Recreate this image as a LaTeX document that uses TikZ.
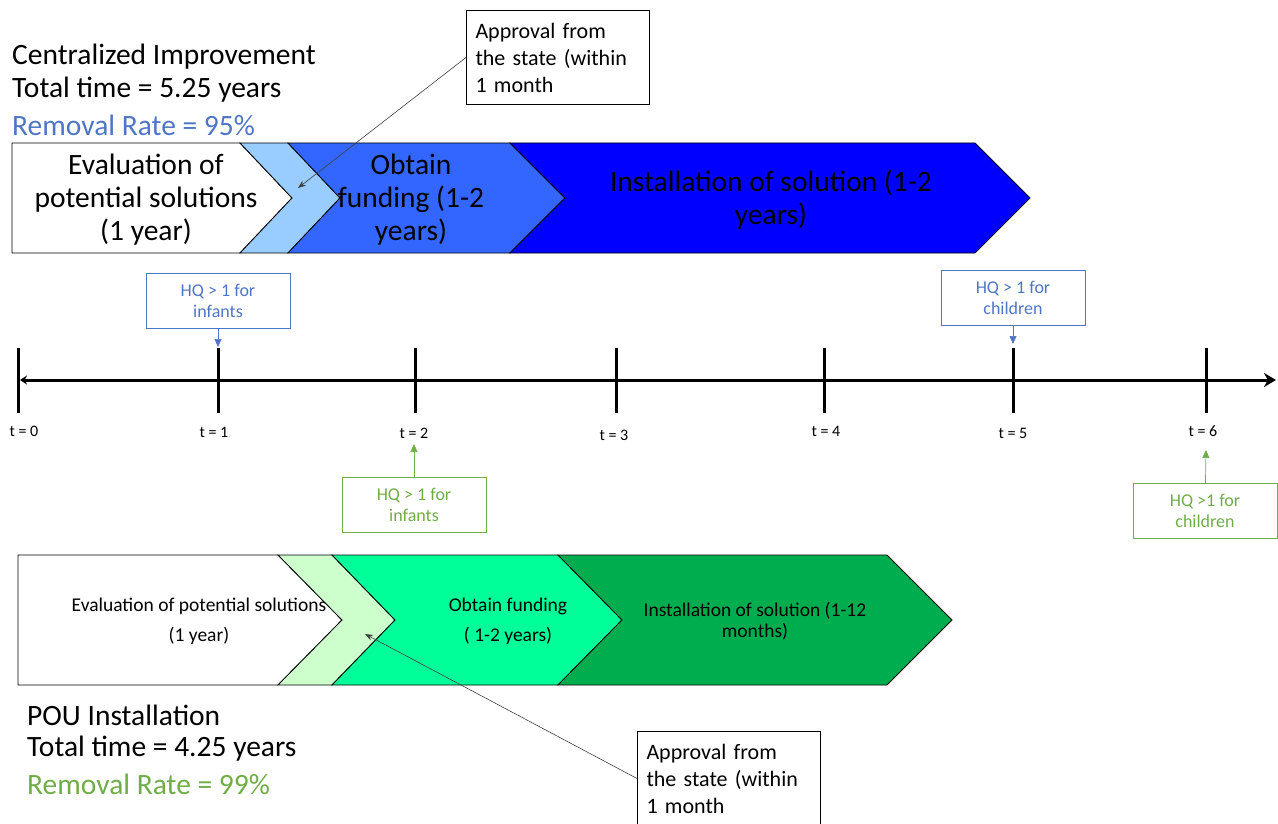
\documentclass[tikz,border=0pt]{standalone}
\usepackage{fontspec}
\setmainfont{Carlito}
\usetikzlibrary{arrows.meta}

\definecolor{lightblue}{HTML}{99CCFF}
\definecolor{midblue}{HTML}{3366FF}
\definecolor{deepblue}{HTML}{0000FF}
\definecolor{lightgreen}{HTML}{CCFFCC}
\definecolor{mintgreen}{HTML}{00FF99}
\definecolor{darkgreen}{HTML}{00AD4E}
\definecolor{hqblue}{HTML}{4F76C4}
\definecolor{hqgreen}{HTML}{70AD47}

\tikzset{
  title/.style={anchor=west,inner sep=0pt,font=\fontsize{29.5}{34}\selectfont},
  bigtext/.style={align=center,inner sep=0pt,font=\fontsize{29.5}{33}\selectfont},
  smalltext/.style={align=center,inner sep=0pt,font=\fontsize{19.5}{30}\selectfont},
  chev/.style={draw=black,line width=0.8pt},
  tick/.style={line width=3pt},
  tlabel/.style={inner sep=0pt,font=\fontsize{16}{18}\selectfont},
  hqbox/.style={draw,line width=1pt,align=center,inner sep=0pt,
    minimum width=144pt,minimum height=55pt,font=\fontsize{18}{21}\selectfont},
  callout/.style={draw,line width=1pt,align=left,anchor=north west,inner xsep=9pt,
    text width=165pt,minimum height=94pt,font=\fontsize{22}{27}\selectfont},
}

\begin{document}
\begin{tikzpicture}[x=1pt,y=-1pt]
      \useasboundingbox (0,0) rectangle (1278,824);

      % centralized improvement
      \node[title] (t1) at (12,57) {Centralized Improvement};
      \node[title] (t2) at (12,90) {Total time = 5.25 years};
      \node[title,text=hqblue] (t3) at (12,125) {Removal Rate = 95\%};

      \draw[chev,fill=white] (12,143) -- (240,143) -- (292,198) -- (240,253) -- (12,253) -- cycle;
      \draw[chev,fill=lightblue] (240,143) -- (288,143) -- (340,198) -- (288,253) -- (240,253) -- (292,198) -- cycle;
      \draw[chev,fill=midblue] (288,143) -- (510,143) -- (565,198) -- (510,253) -- (288,253) -- (340,198) -- cycle;
      \draw[chev,fill=deepblue] (510,143) -- (975,143) -- (1030,198) -- (975,253) -- (510,253) -- (565,198) -- cycle;

      \node[bigtext] (e1) at (146,200) {Evaluation of\\potential solutions\\(1 year)};
      \node[bigtext] (f1) at (411,200) {Obtain\\funding (1-2\\years)};
      \node[bigtext] (i1) at (771,200) {Installation of solution (1-2\\years)};

      \node[callout] (a1) at (466,10) {Approval from\\the state (within\\1 month};
      \coordinate (p1) at (298,188);
      \draw[-{Stealth[length=8pt,width=6pt]},line width=0.6pt,black!75] (a1.west) -- (p1);

      % timeline
      \coordinate (l0) at (20,380);
      \coordinate (l7) at (1276,380);
      \draw[line width=3pt,{Stealth[length=7pt,width=9pt]}-{Stealth[length=12pt,width=14pt]}] (l0) -- (l7);

      \draw[tick] (18,348) -- (18,413);
      \draw[tick] (218,348) -- (218,413);
      \draw[tick] (415,348) -- (415,413);
      \draw[tick] (616,348) -- (616,413);
      \draw[tick] (824,348) -- (824,413);
      \draw[tick] (1013,348) -- (1013,413);
      \draw[tick] (1206,348) -- (1206,413);

      \node[tlabel] (n0) at (24,431) {t = 0};
      \node[tlabel] (n1) at (214,432) {t = 1};
      \node[tlabel] (n2) at (414,433) {t = 2};
      \node[tlabel] (n3) at (614,435) {t = 3};
      \node[tlabel] (n4) at (826,431) {t = 4};
      \node[tlabel] (n5) at (1013,433) {t = 5};
      \node[tlabel] (n6) at (1203,431) {t = 6};

      % health quotient markers
      \node[hqbox,draw=hqblue,text=hqblue] (h1) at (218,301) {HQ > 1 for\\infants};
      \node[hqbox,draw=hqblue,text=hqblue] (h5) at (1013,298) {HQ > 1 for\\children};
      \node[hqbox,draw=hqgreen,text=hqgreen] (g2) at (414,505) {HQ > 1 for\\infants};
      \node[hqbox,draw=hqgreen,text=hqgreen] (g6) at (1205,511) {HQ >1 for\\children};

      \coordinate (k1) at (218,347);
      \coordinate (k5) at (1013,344);
      \coordinate (k2) at (414,444);
      \coordinate (k6) at (1206,450);

      \draw[-{Triangle[length=8pt,width=7pt]},hqblue,line width=0.7pt] (h1) -- (k1);
      \draw[-{Triangle[length=8pt,width=7pt]},hqblue,line width=0.7pt] (h5) -- (k5);
      \draw[-{Triangle[length=8pt,width=7pt]},hqgreen,line width=0.7pt] (g2) -- (k2);
      \draw[-{Triangle[length=8pt,width=7pt]},hqgreen,line width=0.7pt] (g6) -- (k6);

      % point of use installation
      \draw[chev,fill=white] (18,555) -- (278,555) -- (342,620) -- (278,685) -- (18,685) -- cycle;
      \draw[chev,fill=lightgreen] (278,555) -- (332,555) -- (395,620) -- (332,685) -- (278,685) -- (342,620) -- cycle;
      \draw[chev,fill=mintgreen] (332,555) -- (558,555) -- (622,620) -- (558,685) -- (332,685) -- (395,620) -- cycle;
      \draw[chev,fill=darkgreen] (558,555) -- (887,555) -- (952,620) -- (887,685) -- (558,685) -- (622,620) -- cycle;

      \node[smalltext] (e2) at (199,621) {Evaluation of potential solutions\\(1 year)};
      \node[smalltext] (f2) at (508,621) {Obtain funding\\( 1-2 years)};
      \node[smalltext,font=\fontsize{19.5}{21}\selectfont] (i2) at (755,621) {Installation of solution (1-12\\months)};

      \node[callout] (a2) at (637,731) {Approval from\\the state (within\\1 month};
      \coordinate (p2) at (365,634);
      \draw[-{Stealth[length=8pt,width=6pt]},line width=0.6pt,black!75] (a2.west) -- (p2);

      \node[title] (b1) at (27,715) {POU Installation};
      \node[title] (b2) at (27,749) {Total time = 4.25 years};
      \node[title,text=hqgreen] (b3) at (27,784) {Removal Rate = 99\%};
    \end{tikzpicture}
\end{document}
